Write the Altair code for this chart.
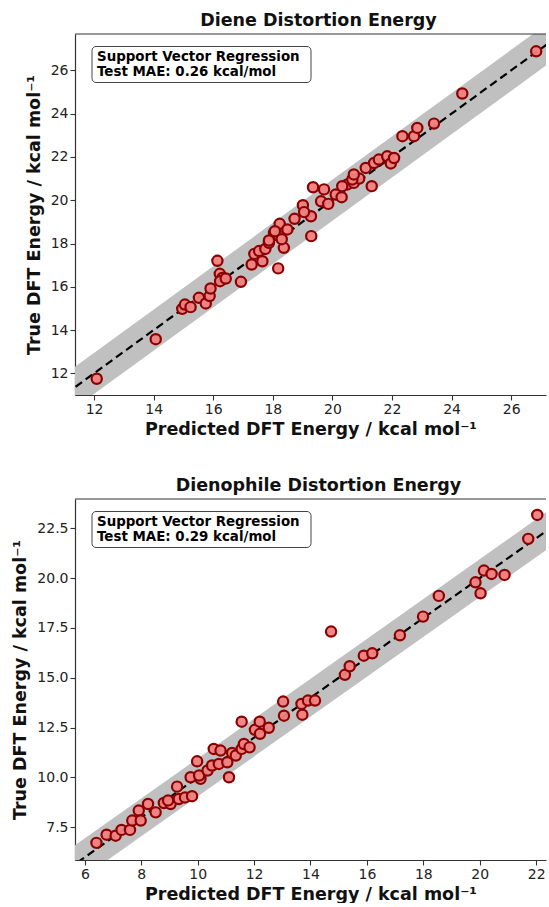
import altair as alt
import pandas as pd

# ---- Diene distortion energy (predicted vs true, kcal/mol)
diene_pred = [12.09, 14.07, 14.96, 15.05, 15.24, 15.52, 15.75, 15.88, 15.91, 16.14,
              16.22, 16.31, 16.23, 16.42, 16.93, 17.29, 17.38, 17.54, 17.65, 17.75,
              17.87, 18.04, 18.18, 18.23, 18.21, 18.37, 18.49, 18.73, 19.01, 19.29,
              19.28, 19.35, 19.72, 19.62, 19.86, 20.11, 20.31, 20.50, 20.72, 20.90,
              21.32, 20.67, 20.72, 21.12, 21.40, 21.56, 21.84, 21.96, 22.07, 22.35,
              22.74, 22.85, 23.41, 24.36, 26.84, 18.07, 17.87, 19.05, 20.33, 18.30]
diene_true = [11.75, 13.58, 14.98, 15.18, 15.06, 15.49, 15.23, 15.57, 15.92, 17.20,
              16.60, 16.41, 16.26, 16.38, 16.23, 17.03, 17.52, 17.65, 17.18, 17.75,
              18.03, 18.49, 16.85, 18.91, 18.34, 17.80, 18.65, 19.14, 19.77, 18.34,
              19.26, 20.60, 20.50, 19.95, 19.83, 20.26, 20.14, 20.73, 20.80, 21.00,
              20.65, 20.96, 21.19, 21.49, 21.72, 21.88, 22.03, 21.70, 21.95, 22.96,
              22.96, 23.34, 23.54, 24.93, 26.88, 18.57, 18.14, 19.45, 20.65, 18.20]

# ---- Dienophile distortion energy
dp_pred = [6.41, 6.77, 7.09, 7.30, 7.60, 7.68, 7.91, 7.98, 8.24, 8.51,
           8.80, 9.04, 8.95, 9.27, 9.33, 9.55, 9.80, 9.75, 9.98, 10.10,
           10.05, 10.35, 10.51, 10.57, 10.81, 10.75, 11.11, 11.05, 11.22, 11.35,
           11.56, 11.56, 11.64, 11.84, 12.03, 12.20, 12.21, 12.52, 13.03, 13.06,
           13.68, 13.71, 13.91, 14.16, 14.73, 15.22, 15.39, 15.89, 16.19, 17.17,
           17.99, 18.55, 19.85, 20.03, 20.15, 20.42, 20.88, 21.72, 22.04]
dp_true = [6.72, 7.13, 7.08, 7.37, 7.37, 7.84, 8.34, 7.84, 8.67, 8.25,
           8.72, 8.67, 8.85, 9.54, 8.92, 9.00, 9.06, 10.01, 10.81, 9.93,
           10.10, 10.35, 10.60, 11.43, 11.35, 10.68, 10.01, 10.76, 11.23, 11.10,
           12.80, 11.43, 11.68, 11.51, 12.39, 12.80, 12.19, 12.49, 13.81, 13.10,
           13.69, 13.15, 13.86, 13.86, 17.32, 15.15, 15.58, 16.11, 16.23, 17.13,
           18.07, 19.11, 19.79, 19.24, 20.38, 20.21, 20.16, 21.97, 23.17]

diene_xticks = [12, 14, 16, 18, 20, 22, 24, 26]
diene_yticks = [12, 14, 16, 18, 20, 22, 24, 26]
dp_xticks = [6, 8, 10, 12, 14, 16, 18, 20, 22]
dp_yticks = [7.5, 10.0, 12.5, 15.0, 17.5, 20.0, 22.5]

W = 471
H = 361
BAND = 0.95
FONT = "DejaVu Sans"


def panel(pred, true, title, mae, xdom, ydom, xticks, yticks, yfmt, xfmt):
    df = pd.DataFrame({"pred": pred, "true": true})
    lo, hi = xdom[0] - 1, xdom[1] + 1
    ref = pd.DataFrame({"x": [lo, hi], "y": [lo, hi],
                        "lo": [lo - BAND, hi - BAND], "hi": [lo + BAND, hi + BAND]})
    xs = alt.Scale(domain=xdom, nice=False, zero=False)
    ys = alt.Scale(domain=ydom, nice=False, zero=False)
    xax = alt.Axis(values=xticks, format=xfmt, title="Predicted DFT Energy / kcal mol⁻¹",
                   titlePadding=4)
    yax = alt.Axis(values=yticks, format=yfmt, title="True DFT Energy / kcal mol⁻¹")

    band = alt.Chart(ref).mark_area(color="#c0c0c0", clip=True).encode(
        x=alt.X("x:Q", scale=xs, axis=xax),
        y=alt.Y("lo:Q", scale=ys, axis=yax),
        y2="hi:Q",
    )
    line = alt.Chart(ref).mark_line(color="black", strokeWidth=2.2, strokeDash=[8, 4.5], clip=True).encode(
        x=alt.X("x:Q", scale=xs),
        y=alt.Y("y:Q", scale=ys),
    )
    pts = alt.Chart(df).mark_point(
        shape="circle", filled=True, fill="#f08080", stroke="#8b0000",
        strokeWidth=2.2, size=105, opacity=1, fillOpacity=0.95,
    ).encode(
        x=alt.X("pred:Q", scale=xs),
        y=alt.Y("true:Q", scale=ys),
    )
    one = pd.DataFrame({"a": [0]})
    box = alt.Chart(one).mark_rect(
        cornerRadius=4, fill="white", stroke="#444", strokeWidth=1
    ).encode(x=alt.value(17), x2=alt.value(236), y=alt.value(12.5), y2=alt.value(48.5))
    txt = alt.Chart(one).mark_text(
        align="left", baseline="middle", font=FONT, fontSize=13.4, fontWeight="bold",
        color="black", lineBreak="\n", lineHeight=15.5,
    ).encode(x=alt.value(22), y=alt.value(22.5),
             text=alt.value("Support Vector Regression\nTest MAE: " + mae + " kcal/mol"))
    top = alt.Chart(one).mark_rule(color="#333", strokeWidth=1.2).encode(
        x=alt.value(0), x2=alt.value(W), y=alt.value(0))

    return alt.layer(band, line, pts, box, txt, top).properties(
        width=W, height=H, title=alt.TitleParams(title, dx=8)
    )


c1 = panel(diene_pred, diene_true, "Diene Distortion Energy", "0.26",
           [11.36, 27.17], [11.0, 27.68], diene_xticks, diene_yticks, "d", "d")
c2 = panel(dp_pred, dp_true, "Dienophile Distortion Energy", "0.29",
           [5.65, 22.35], [5.86, 23.97], dp_xticks, dp_yticks, ".1f", "d")

chart = alt.vconcat(c1, c2, spacing=38).properties(
    padding={"left": 11, "top": 11, "right": 0, "bottom": 0}
).configure_view(stroke=None).configure_axis(
    grid=False, labelFont=FONT, labelFontSize=14, labelColor="#222",
    titleFont=FONT, titleFontSize=17.5, titleFontWeight="bold", titleColor="#111",
    domainColor="#333", domainWidth=1.2, tickColor="#333", tickSize=5, tickWidth=1.1,
    labelPadding=2, titlePadding=7,
).configure_title(
    font=FONT, fontSize=17.5, fontWeight="bold", color="#111", offset=4, anchor="middle"
)

chart.save("out.html", embed_options={"renderer": "svg", "actions": False})
